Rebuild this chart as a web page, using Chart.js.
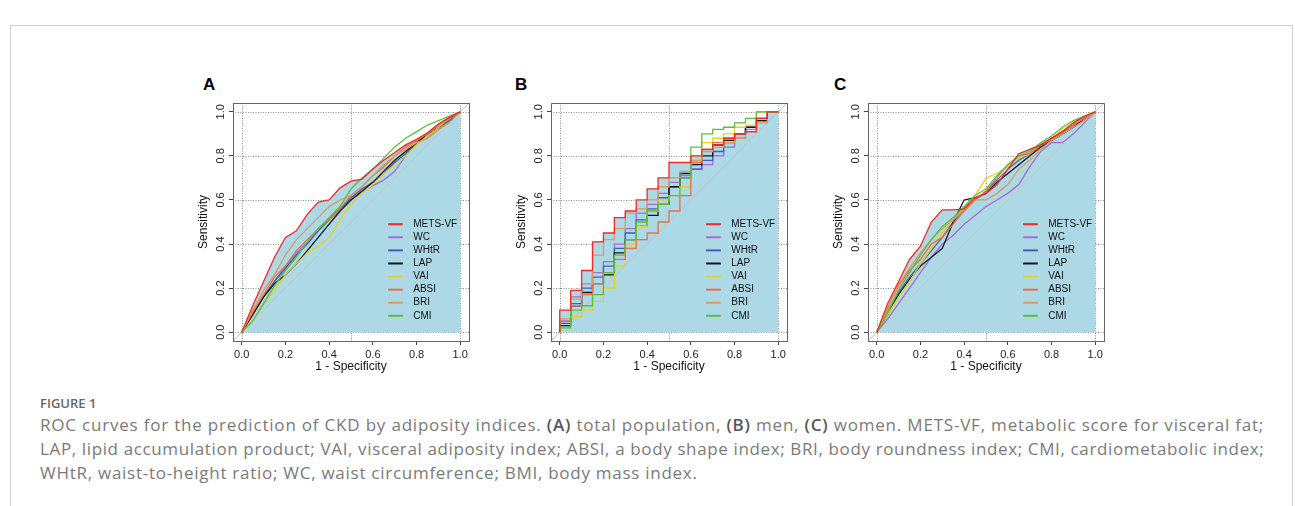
<!DOCTYPE html>
<html>
<head>
<meta charset="utf-8">
<script src="https://cdn.jsdelivr.net/npm/chart.js@4.4.0/dist/chart.umd.min.js"></script>
<style>
  body { margin: 0; background: #fff; width: 1295px; height: 506px; overflow: hidden; position: relative; }
  #frame { position: absolute; left: 10px; top: 25px; width: 1281px; height: 500px; border: 1px solid #d0d0d0; }
  .panel { position: absolute; top: 70px; width: 300px; height: 320px; }
  .letter { position: absolute; top: 75px; font: bold 17px "Liberation Sans", Arial, sans-serif; color: #000; }
  .cap { position: absolute; left: 40px; white-space: nowrap; font-family: "Open Sans", sans-serif; color: #7a7a7a; font-size: 17px; letter-spacing: 0.8px; line-height: 20px; }
  .cap b { color: #555; font-weight: 600; }
  #figlabel { top: 395px; font-size: 13px; font-weight: 600; color: #666; letter-spacing: 0; line-height: 16px; }
</style>
</head>
<body>
<div id="frame"></div>
<div class="letter" style="left:203px">A</div>
<div class="letter" style="left:515px">B</div>
<div class="letter" style="left:834px">C</div>
<div class="panel" style="left:188px"><canvas id="rocA" width="300" height="320"></canvas></div>
<div class="panel" style="left:506px"><canvas id="rocB" width="300" height="320"></canvas></div>
<div class="panel" style="left:823px"><canvas id="rocC" width="300" height="320"></canvas></div>
<div class="cap" id="figlabel">FIGURE 1</div>
<div class="cap" style="top:415px">ROC curves for the prediction of CKD by adiposity indices. <b>(A)</b> total population, <b>(B)</b> men, <b>(C)</b> women. METS-VF, metabolic score for visceral fat;</div>
<div class="cap" style="top:439px; letter-spacing:0.63px">LAP, lipid accumulation product; VAI, visceral adiposity index; ABSI, a body shape index; BRI, body roundness index; CMI, cardiometabolic index;</div>
<div class="cap" style="top:463px; letter-spacing:0.73px">WHtR, waist-to-height ratio; WC, waist circumference; BMI, body mass index.</div>
<script>
// 1 - specificity, shared by every curve
const fpr = [0, 0.05, 0.1, 0.15, 0.2, 0.25, 0.3, 0.35, 0.4, 0.45, 0.5, 0.55, 0.6, 0.65, 0.7, 0.75, 0.8, 0.85, 0.9, 0.95, 1];
const indexNames = ['METS-VF', 'WC', 'WHtR', 'LAP', 'VAI', 'ABSI', 'BRI', 'CMI'];
const tickVals = [0, 0.2, 0.4, 0.6, 0.8, 1];
const gridX = [0, 0.5, 1];
const gridY = [0, 0.2, 0.4, 0.6, 0.8, 1];

// (A) total population - sensitivity
const aMETSVF = [0, 0.12, 0.23, 0.34, 0.43, 0.46, 0.535, 0.59, 0.6, 0.655, 0.685, 0.695, 0.74, 0.78, 0.815, 0.85, 0.875, 0.905, 0.945, 0.975, 1];
const aWC = [0, 0.08, 0.16, 0.23, 0.3, 0.36, 0.41, 0.46, 0.51, 0.56, 0.6, 0.635, 0.665, 0.69, 0.73, 0.8, 0.86, 0.88, 0.92, 0.96, 1];
const aWHtR = [0, 0.08, 0.16, 0.23, 0.29, 0.35, 0.4, 0.46, 0.51, 0.56, 0.61, 0.65, 0.68, 0.72, 0.77, 0.81, 0.86, 0.89, 0.93, 0.96, 1];
const aLAP = [0, 0.08, 0.16, 0.22, 0.26, 0.31, 0.37, 0.43, 0.49, 0.55, 0.6, 0.64, 0.68, 0.73, 0.78, 0.82, 0.86, 0.9, 0.93, 0.97, 1];
const aVAI = [0, 0.05, 0.13, 0.19, 0.26, 0.31, 0.36, 0.39, 0.43, 0.51, 0.58, 0.63, 0.67, 0.72, 0.76, 0.8, 0.85, 0.89, 0.93, 0.97, 1];
const aABSI = [0, 0.09, 0.17, 0.25, 0.3, 0.37, 0.42, 0.47, 0.51, 0.56, 0.62, 0.66, 0.71, 0.75, 0.8, 0.84, 0.87, 0.9, 0.94, 0.97, 1];
const aBRI = [0, 0.1, 0.19, 0.26, 0.35, 0.42, 0.47, 0.52, 0.57, 0.6, 0.62, 0.66, 0.71, 0.76, 0.8, 0.83, 0.86, 0.88, 0.92, 0.95, 1];
const aCMI = [0, 0.05, 0.13, 0.21, 0.28, 0.34, 0.41, 0.47, 0.52, 0.57, 0.65, 0.7, 0.74, 0.79, 0.84, 0.88, 0.91, 0.94, 0.96, 0.98, 1];

// (B) men
const bMETSVF = [0, 0.1, 0.19, 0.28, 0.41, 0.45, 0.52, 0.55, 0.6, 0.65, 0.7, 0.77, 0.77, 0.8, 0.83, 0.85, 0.88, 0.9, 0.91, 0.97, 1];
const bWC = [0, 0.05, 0.16, 0.22, 0.27, 0.32, 0.4, 0.47, 0.54, 0.58, 0.63, 0.68, 0.71, 0.74, 0.76, 0.8, 0.84, 0.88, 0.92, 0.96, 1];
const bWHtR = [0, 0.04, 0.13, 0.2, 0.25, 0.3, 0.38, 0.45, 0.51, 0.56, 0.61, 0.66, 0.7, 0.74, 0.78, 0.82, 0.86, 0.9, 0.93, 0.97, 1];
const bLAP = [0, 0.03, 0.12, 0.18, 0.22, 0.26, 0.36, 0.42, 0.48, 0.53, 0.58, 0.66, 0.72, 0.76, 0.8, 0.85, 0.87, 0.9, 0.93, 0.96, 1];
const bVAI = [0, 0.02, 0.07, 0.1, 0.14, 0.2, 0.3, 0.4, 0.48, 0.55, 0.6, 0.62, 0.66, 0.8, 0.86, 0.88, 0.9, 0.93, 0.94, 1, 1];
const bABSI = [0, 0.05, 0.12, 0.17, 0.22, 0.27, 0.33, 0.38, 0.42, 0.45, 0.5, 0.55, 0.62, 0.77, 0.83, 0.86, 0.88, 0.9, 0.91, 0.97, 1];
const bBRI = [0, 0.06, 0.15, 0.22, 0.35, 0.42, 0.47, 0.54, 0.56, 0.6, 0.66, 0.7, 0.73, 0.78, 0.82, 0.84, 0.86, 0.88, 0.91, 0.95, 1];
const bCMI = [0, 0.02, 0.1, 0.12, 0.17, 0.27, 0.35, 0.42, 0.5, 0.55, 0.58, 0.62, 0.7, 0.84, 0.9, 0.92, 0.93, 0.95, 0.97, 1, 1];

// (C) women
const cMETSVF = [0, 0.13, 0.23, 0.33, 0.39, 0.5, 0.555, 0.555, 0.56, 0.61, 0.63, 0.67, 0.74, 0.81, 0.83, 0.85, 0.88, 0.91, 0.95, 0.98, 1];
const cWC = [0, 0.06, 0.13, 0.2, 0.27, 0.34, 0.4, 0.44, 0.49, 0.53, 0.57, 0.6, 0.63, 0.67, 0.75, 0.82, 0.86, 0.86, 0.9, 0.95, 1];
const cWHtR = [0, 0.09, 0.18, 0.25, 0.31, 0.37, 0.43, 0.5, 0.56, 0.6, 0.64, 0.69, 0.74, 0.78, 0.81, 0.85, 0.88, 0.91, 0.94, 0.97, 1];
const cLAP = [0, 0.08, 0.17, 0.24, 0.3, 0.34, 0.38, 0.5, 0.6, 0.61, 0.63, 0.68, 0.72, 0.76, 0.8, 0.84, 0.87, 0.9, 0.93, 0.97, 1];
const cVAI = [0, 0.08, 0.16, 0.23, 0.31, 0.38, 0.45, 0.51, 0.56, 0.62, 0.7, 0.72, 0.75, 0.79, 0.81, 0.85, 0.88, 0.92, 0.95, 0.98, 1];
const cABSI = [0, 0.11, 0.21, 0.28, 0.33, 0.4, 0.43, 0.49, 0.55, 0.6, 0.64, 0.7, 0.76, 0.8, 0.81, 0.85, 0.88, 0.91, 0.94, 0.97, 1];
const cBRI = [0, 0.1, 0.22, 0.29, 0.36, 0.42, 0.47, 0.51, 0.56, 0.6, 0.6, 0.63, 0.67, 0.74, 0.78, 0.83, 0.87, 0.9, 0.93, 0.96, 1];
const cCMI = [0, 0.09, 0.19, 0.27, 0.35, 0.42, 0.48, 0.52, 0.57, 0.62, 0.65, 0.71, 0.76, 0.8, 0.82, 0.86, 0.89, 0.93, 0.96, 0.98, 1];

const lineColors = ['#f02828', '#a86cd0', '#3d5fc0', '#151515', '#e8d21e', '#ec6e48', '#dc9a5c', '#5cbe3c'];
const fillColor = '#add8e6';
const baseFont = '"Liberation Sans", Arial, sans-serif';

// grid, box, rotated y labels and the in-plot legend (R style)
const rocDecor = {
  id: 'rocDecor',
  beforeDatasetsDraw(chart) {
    const { ctx, chartArea: a, scales: { x, y } } = chart;
    ctx.save();
    ctx.strokeStyle = '#8c8c8c';
    ctx.lineWidth = 1;
    ctx.setLineDash([1, 1.5]);
    for (const v of gridX) {
      const px = Math.round(x.getPixelForValue(v)) + 0.5;
      ctx.beginPath(); ctx.moveTo(px, a.top); ctx.lineTo(px, a.bottom); ctx.stroke();
    }
    for (const v of gridY) {
      const py = Math.round(y.getPixelForValue(v)) + 0.5;
      ctx.beginPath(); ctx.moveTo(a.left, py); ctx.lineTo(a.right, py); ctx.stroke();
    }
    ctx.restore();
  },
  afterDatasetsDraw(chart) {
    const { ctx, chartArea: a, scales: { x, y } } = chart;
    ctx.save();
    // legend inside the plot
    ctx.font = '10px ' + baseFont;
    ctx.textBaseline = 'middle';
    ctx.fillStyle = '#111';
    indexNames.forEach((name, i) => {
      const py = y.getPixelForValue(0.49 - i * 0.0594);
      ctx.strokeStyle = lineColors[i];
      ctx.lineWidth = 2;
      ctx.beginPath();
      ctx.moveTo(x.getPixelForValue(0.67), py);
      ctx.lineTo(x.getPixelForValue(0.737), py);
      ctx.stroke();
      ctx.fillText(name, x.getPixelForValue(0.785), py);
    });
    // plot box
    ctx.strokeStyle = '#666';
    ctx.lineWidth = 1;
    ctx.strokeRect(Math.round(a.left) + 0.5, Math.round(a.top) + 0.5, Math.round(a.right - a.left), Math.round(a.bottom - a.top));
    // rotated y tick labels
    ctx.font = '11px ' + baseFont;
    ctx.fillStyle = '#222';
    ctx.textAlign = 'center';
    for (const v of tickVals) {
      ctx.save();
      ctx.translate(a.left - 12, y.getPixelForValue(v));
      ctx.rotate(-Math.PI / 2);
      ctx.fillText(v.toFixed(1), 0, 0);
      ctx.restore();
    }
    ctx.restore();
  }
};

function makeRoc(id, curves, stepped) {
  const pts = arr => fpr.map((f, i) => ({ x: f, y: arr[i] }));
  const datasets = [];
  // area under the METS-VF curve
  datasets.push({
    data: pts(curves[0]), fill: 'origin', backgroundColor: fillColor,
    borderWidth: 0, pointRadius: 0, stepped: stepped, order: 20
  });
  // chance line
  datasets.push({
    data: [{ x: -0.04, y: -0.04 }, { x: 1.04, y: 1.04 }],
    borderColor: '#c4c4c4', borderWidth: 1, pointRadius: 0, fill: false, order: 19
  });
  curves.forEach((c, i) => {
    datasets.push({
      label: indexNames[i], data: pts(c), borderColor: lineColors[i],
      borderWidth: 1.3, pointRadius: 0, fill: false, stepped: stepped, order: i === 0 ? 0 : 10 - i
    });
  });
  const tickAxis = {
    type: 'linear', min: -0.04, max: 1.04,
    afterBuildTicks: s => { s.ticks = tickVals.map(v => ({ value: v })); },
    grid: { drawOnChartArea: false, drawTicks: true, tickLength: 4, color: '#444' },
    border: { display: false }
  };
  new Chart(document.getElementById(id), {
    type: 'line',
    data: { datasets },
    options: {
      responsive: false,
      animation: false,
      layout: { padding: { top: 33, right: 19, left: 0, bottom: 0 } },
      plugins: { legend: { display: false }, tooltip: { enabled: false } },
      scales: {
        x: Object.assign({}, tickAxis, {
          afterFit: s => { s.height = 49; },
          ticks: { padding: 3, color: '#222', font: { family: baseFont, size: 11 }, callback: v => v.toFixed(1), maxRotation: 0 },
          title: { display: true, text: '1 - Specificity', color: '#111', font: { family: baseFont, size: 12 }, padding: { top: 0, bottom: 16 } }
        }),
        y: Object.assign({}, tickAxis, {
          afterFit: s => { s.width = 45; },
          ticks: { color: 'rgba(0,0,0,0)', font: { family: baseFont, size: 11 } },
          title: { display: true, text: 'Sensitivity', color: '#111', font: { family: baseFont, size: 12 }, padding: { top: 8, bottom: 0 } }
        })
      }
    },
    plugins: [rocDecor]
  });
}

makeRoc('rocA', [aMETSVF, aWC, aWHtR, aLAP, aVAI, aABSI, aBRI, aCMI], false);
makeRoc('rocB', [bMETSVF, bWC, bWHtR, bLAP, bVAI, bABSI, bBRI, bCMI], 'after');
makeRoc('rocC', [cMETSVF, cWC, cWHtR, cLAP, cVAI, cABSI, cBRI, cCMI], false);
</script>
</body>
</html>
